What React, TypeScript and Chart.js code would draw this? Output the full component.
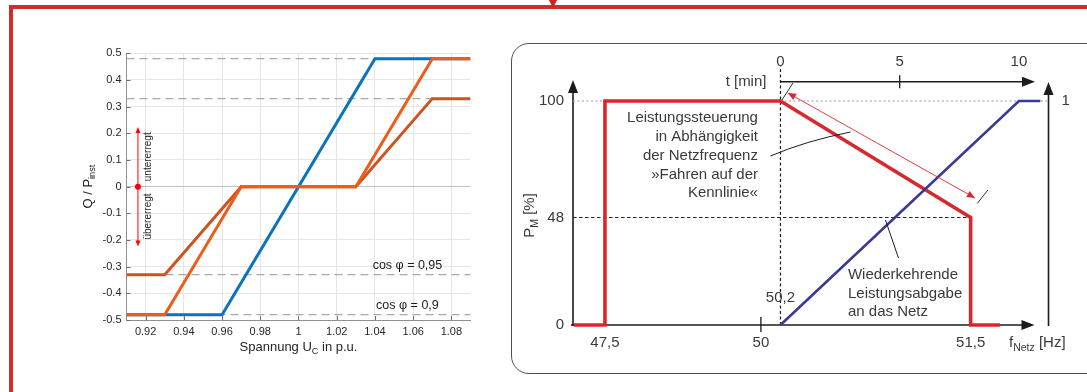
import React, { useEffect, useRef } from 'react';
import { Chart, registerables } from 'chart.js';
Chart.register(...registerables);

// ---------------- Left chart: Q/P_inst over U_C ----------------
const U_MIN = 0.91;
const U_MAX = 1.09;
const U_TICKS = [0.92, 0.94, 0.96, 0.98, 1.0, 1.02, 1.04, 1.06, 1.08];
const Q_TICKS = [-0.5, -0.4, -0.3, -0.2, -0.1, 0, 0.1, 0.2, 0.3, 0.4, 0.5];
const BLUE_U = [0.91, 0.96, 1.04, 1.09];
const BLUE_Q = [-0.48, -0.48, 0.48, 0.48];
const ORANGE_U = [0.91, 0.93, 0.97, 1.03, 1.07, 1.09];
const ORANGE_Q = [-0.48, -0.48, 0, 0, 0.48, 0.48];
const DARK_U = [0.91, 0.93, 0.97, 1.03, 1.07, 1.09];
const DARK_Q = [-0.33, -0.33, 0, 0, 0.33, 0.33];
const LIMIT_LEVELS = [0.48, 0.33, -0.33, -0.48];
const COS_LABELS = ['cos φ = 0,95', 'cos φ = 0,9'];
const COS_LEVELS = [-0.33, -0.48];
const COS_LABEL_U = 1.057;
const EXC_U = 0.916;
const EXC_RANGE = 0.224;
const EXC_LABELS = ['untererregt', 'übererregt'];

// ---------------- Right chart: P_M over f_Netz / t ----------------
const P_TICKS = [0, 48, 100];
const P_TICK_LABELS = ['0', '48', '100'];
const F_TICKS = [47.5, 50, 51.5];
const F_TICK_LABELS = ['47,5', '50', '51,5'];
const F_START = 50.2;
const F_START_LABEL = '50,2';
const T_TICKS = [0, 5, 10];
const T_TICK_LABELS = ['0', '5', '10'];
const RED_F = [47.0, 47.5, 47.5, 50.2, 51.5, 51.5, 51.7];
const RED_P = [0, 0, 100, 100, 48, 0, 0];
const BLUE_T = [0, 10, 10.9];
const BLUE_P = [0, 100, 100];
const NOTE_CONTROL = ['Leistungssteuerung', 'in Abhängigkeit', 'der Netzfrequenz', '»Fahren auf der', 'Kennlinie«'];
const NOTE_RETURN = ['Wiederkehrende', 'Leistungsabgabe', 'an das Netz'];

// schematic (broken) frequency axis, expressed in minute units of the time axis
const F_BREAKS = [47.5, 50, 50.2, 51.5];
const F_AXIS_AT = [-7.36, -0.82, 0, 7.975];
const T_MIN = -8.7;
const T_MAX = 11.24;
function fAxis(f: number): number {
  const b = F_BREAKS, a = F_AXIS_AT;
  let i = 0;
  if (f <= b[0]) i = 0;
  else if (f >= b[b.length - 1]) i = b.length - 2;
  else { while (f > b[i + 1]) i++; }
  return a[i] + (f - b[i]) * (a[i + 1] - a[i]) / (b[i + 1] - b[i]);
}

const LFONT = "'Liberation Sans', Arial, sans-serif";
const RFONT = "'Liberation Sans', Arial, sans-serif";
const FRAME_RED = '#cf2e2e';

type Part = { t: string; sub?: boolean };
function drawRich(ctx: CanvasRenderingContext2D, parts: Part[], x: number, y: number, size: number, family: string, color: string, align: 'left' | 'center' | 'right' = 'center') {
  ctx.save();
  ctx.fillStyle = color;
  ctx.textBaseline = 'middle';
  ctx.textAlign = 'left';
  const sub = size * 0.7;
  const widths = parts.map(p => { ctx.font = `${p.sub ? sub : size}px ${family}`; return ctx.measureText(p.t).width; });
  const total = widths.reduce((s, w) => s + w, 0);
  let cx = align === 'center' ? x - total / 2 : align === 'right' ? x - total : x;
  parts.forEach((p, i) => {
    ctx.font = `${p.sub ? sub : size}px ${family}`;
    ctx.fillText(p.t, cx, p.sub ? y + size * 0.36 : y);
    cx += widths[i];
  });
  ctx.restore();
}

function arrowHead(ctx: CanvasRenderingContext2D, tx: number, ty: number, dx: number, dy: number, len: number, hw: number, color: string) {
  const n = Math.hypot(dx, dy); const ux = dx / n, uy = dy / n;
  ctx.save();
  ctx.fillStyle = color;
  ctx.beginPath();
  ctx.moveTo(tx, ty);
  ctx.lineTo(tx - ux * len - uy * hw, ty - uy * len + ux * hw);
  ctx.lineTo(tx - ux * len + uy * hw, ty - uy * len - ux * hw);
  ctx.closePath();
  ctx.fill();
  ctx.restore();
}

const pts = (xs: number[], ys: number[]) => xs.map((x, i) => ({ x, y: ys[i] }));

function leftConfig(): any {
  const plugin = {
    id: 'leftDecor',
    afterDraw(chart: any) {
      const { ctx, chartArea: ca, scales } = chart;
      const x = scales.x, y = scales.y;
      ctx.save();
      // inward tick marks
      ctx.strokeStyle = '#6e6e6e';
      ctx.lineWidth = 1;
      ctx.beginPath();
      U_TICKS.forEach(u => { const px = Math.round(x.getPixelForValue(u)) + 0.5; ctx.moveTo(px, ca.bottom); ctx.lineTo(px, ca.bottom - 4); });
      Q_TICKS.forEach(q => { const py = Math.round(y.getPixelForValue(q)) + 0.5; ctx.moveTo(ca.left, py); ctx.lineTo(ca.left + 4, py); });
      ctx.stroke();
      // axis titles
      drawRich(ctx, [{ t: 'Spannung U' }, { t: 'C', sub: true }, { t: ' in p.u.' }], (ca.left + ca.right) / 2, ca.bottom + 27, 13, LFONT, '#262626');
      ctx.save();
      ctx.translate(ca.left - 38.5, y.getPixelForValue(0));
      ctx.rotate(-Math.PI / 2);
      drawRich(ctx, [{ t: 'Q / P' }, { t: 'inst', sub: true }], 0, 0, 13, LFONT, '#262626');
      ctx.restore();
      // cos phi labels
      ctx.fillStyle = '#1a1a1a';
      ctx.font = `12.5px ${LFONT}`;
      ctx.textAlign = 'center';
      ctx.textBaseline = 'middle';
      COS_LABELS.forEach((t, i) => ctx.fillText(t, x.getPixelForValue(COS_LABEL_U), y.getPixelForValue(COS_LEVELS[i]) - 9.5));
      // excitation arrow
      const ax = x.getPixelForValue(EXC_U);
      const y0 = y.getPixelForValue(0), yU = y.getPixelForValue(EXC_RANGE), yD = y.getPixelForValue(-EXC_RANGE);
      ctx.strokeStyle = '#ff0000';
      ctx.lineWidth = 1;
      ctx.beginPath();
      ctx.moveTo(ax, yU + 4); ctx.lineTo(ax, yD - 4);
      ctx.stroke();
      arrowHead(ctx, ax, yU, 0, -1, 6, 2.5, '#ff0000');
      arrowHead(ctx, ax, yD, 0, 1, 6, 2.5, '#ff0000');
      ctx.fillStyle = '#ff0000';
      ctx.beginPath(); ctx.arc(ax, y0, 3, 0, Math.PI * 2); ctx.fill();
      [EXC_RANGE / 2, -EXC_RANGE / 2].forEach((v, i) => {
        ctx.save();
        ctx.translate(ax + 10.7, y.getPixelForValue(v));
        ctx.rotate(-Math.PI / 2);
        ctx.fillStyle = '#262626';
        ctx.font = `10px ${LFONT}`;
        ctx.textAlign = 'center';
        ctx.textBaseline = 'middle';
        ctx.fillText(EXC_LABELS[i], 0, 0);
        ctx.restore();
      });
      ctx.restore();
    },
  };
  const line = (data: any[], color: string, order: number, extra: any = {}) => ({ data, borderColor: color, borderWidth: 3, order, pointRadius: 0, ...extra });
  return {
    type: 'line',
    data: {
      datasets: [
        line(pts(ORANGE_U, ORANGE_Q), '#ea5d1b', 1),
        line(pts(DARK_U, DARK_Q), '#cf5322', 2),
        line(pts(BLUE_U, BLUE_Q), '#0b72bd', 3),
        ...LIMIT_LEVELS.map(v => line([{ x: U_MIN, y: v }, { x: U_MAX, y: v }], '#a9a9a9', 10, { borderWidth: 1.3, borderDash: [8, 5] })),
      ],
    },
    options: {
      responsive: false,
      animation: false,
      devicePixelRatio: 1,
      events: [],
      layout: { padding: { left: 0, top: 23.3, right: 19.5, bottom: 0 } },
      plugins: { legend: { display: false }, tooltip: { enabled: false } },
      elements: { line: { tension: 0, fill: false } },
      scales: {
        x: {
          type: 'linear', min: U_MIN, max: U_MAX,
          afterBuildTicks: (s: any) => { s.ticks = U_TICKS.map(value => ({ value })); },
          afterFit: (s: any) => { s.height = 50; },
          ticks: { autoSkip: false, maxRotation: 0, padding: 5, color: '#262626', font: { family: LFONT, size: 11 }, callback: (v: number) => (Math.abs(v - 1) < 1e-9 ? '1' : v.toFixed(2)) },
          grid: { color: '#e6e6e6', drawTicks: false },
          border: { display: true, color: '#8f8f8f' },
        },
        y: {
          type: 'linear', min: -0.5, max: 0.5,
          afterBuildTicks: (s: any) => { s.ticks = Q_TICKS.map(value => ({ value })); },
          afterFit: (s: any) => { s.width = 86.5; },
          ticks: { autoSkip: false, padding: 5, color: '#262626', font: { family: LFONT, size: 11 }, callback: (v: number) => (Math.abs(v) < 1e-9 ? '0' : v.toFixed(1)) },
          grid: { color: (c: any) => (c.tick && Math.abs(c.tick.value) < 1e-9 ? '#c0c0c0' : '#e6e6e6'), drawTicks: false },
          border: { display: true, color: '#8f8f8f' },
        },
      },
    },
    plugins: [plugin],
  };
}

function rightConfig(): any {
  const INK = '#1c1c1c';
  const TXT = '#3a3a3a';
  const RED = '#d6292f';
  const back = {
    id: 'rightAxes',
    beforeDatasetsDraw(chart: any) {
      const { ctx, chartArea: ca, scales } = chart;
      const X = (v: number) => scales.x.getPixelForValue(v);
      const Y = (v: number) => scales.y.getPixelForValue(v);
      const yT = Y(100), yB = Y(0), x0 = X(fAxis(F_START));
      const tY = yT - 19.3;
      ctx.save();
      ctx.strokeStyle = INK;
      ctx.lineWidth = 1.6;
      ctx.beginPath();
      // P axis (left)
      ctx.moveTo(ca.left, yB + 1); ctx.lineTo(ca.left, yT - 12);
      // right vertical
      ctx.moveTo(ca.right, yB + 1); ctx.lineTo(ca.right, yT - 10);
      // f axis
      ctx.moveTo(ca.left - 2, yB); ctx.lineTo(ca.right - 24, yB);
      // t axis
      ctx.moveTo(x0, tY); ctx.lineTo(ca.right - 24, tY);
      ctx.stroke();
      arrowHead(ctx, ca.left, yT - 21, 0, -1, 13, 5, INK);
      arrowHead(ctx, ca.right, yT - 19, 0, -1, 13, 5, INK);
      arrowHead(ctx, ca.right - 14, yB, 1, 0, 13, 5, INK);
      arrowHead(ctx, ca.right - 13.5, tY, 1, 0, 13, 5, INK);
      // tick marks
      ctx.lineWidth = 1.3;
      ctx.beginPath();
      ctx.moveTo(X(T_TICKS[1]), tY - 6.5); ctx.lineTo(X(T_TICKS[1]), tY + 6.5);
      ctx.moveTo(X(fAxis(F_TICKS[1])), yB - 8); ctx.lineTo(X(fAxis(F_TICKS[1])), yB + 7);
      ctx.stroke();
      // dashed vertical at 50,2 / t = 0
      ctx.setLineDash([3, 2.5]);
      ctx.lineWidth = 1.2;
      ctx.beginPath();
      ctx.moveTo(x0, yB); ctx.lineTo(x0, yT - 35);
      ctx.stroke();
      ctx.restore();
    },
  };
  const front = {
    id: 'rightText',
    afterDatasetsDraw(chart: any) {
      const { ctx, chartArea: ca, scales } = chart;
      const X = (v: number) => scales.x.getPixelForValue(v);
      const Y = (v: number) => scales.y.getPixelForValue(v);
      const yT = Y(100), yB = Y(0), x0 = X(fAxis(F_START));
      const tY = yT - 19.3;
      ctx.save();
      ctx.fillStyle = TXT;
      ctx.font = `15px ${RFONT}`;
      ctx.textBaseline = 'middle';
      ctx.textAlign = 'center';
      T_TICKS.forEach((t, i) => ctx.fillText(T_TICK_LABELS[i], X(t), tY - 20));
      F_TICKS.forEach((f, i) => ctx.fillText(F_TICK_LABELS[i], X(fAxis(f)), yB + 18));
      ctx.fillText(F_START_LABEL, x0, yB - 27);
      ctx.textAlign = 'right';
      P_TICKS.forEach((p, i) => ctx.fillText(P_TICK_LABELS[i], ca.left - 9, Y(p)));
      ctx.fillText('t [min]', x0 - 14, tY);
      NOTE_CONTROL.forEach((t, i) => ctx.fillText(t, x0 - 22.5, yT + 17 + i * 18.8));
      ctx.textAlign = 'left';
      ctx.fillText('1', ca.right + 13, yT);
      NOTE_RETURN.forEach((t, i) => ctx.fillText(t, x0 + 67.5, yB - 50 + i * 18.4));
      drawRich(ctx, [{ t: 'f' }, { t: 'Netz', sub: true }, { t: ' [Hz]' }], ca.right - 39.5, yB + 18, 15, RFONT, TXT, 'left');
      ctx.save();
      ctx.translate(ca.left - 43, Y(48) - 2);
      ctx.rotate(-Math.PI / 2);
      drawRich(ctx, [{ t: 'P' }, { t: 'M', sub: true }, { t: ' [%]' }], 0, 0, 15, RFONT, TXT, 'center');
      ctx.restore();
      // leader lines
      ctx.strokeStyle = INK;
      ctx.lineWidth = 1;
      ctx.beginPath();
      ctx.moveTo(x0 - 10, yT + 55);
      ctx.quadraticCurveTo(x0 + 25, yT + 40, x0 + 70, yT + 31);
      ctx.moveTo(x0 + 105, yB - 105); ctx.lineTo(x0 + 118, yB - 67);
      ctx.stroke();
      // ramp dimension arrow
      const ex = X(fAxis(F_TICKS[2])), ey = Y(48);
      const sx = x0 + 7.5, sy = yT - 8;
      const tx = ex + 4.3, ty = ey - 19.5;
      ctx.strokeStyle = RED;
      ctx.lineWidth = 0.9;
      ctx.beginPath(); ctx.moveTo(sx, sy); ctx.lineTo(tx, ty); ctx.stroke();
      arrowHead(ctx, sx, sy, sx - tx, sy - ty, 8, 3.5, RED);
      arrowHead(ctx, tx, ty, tx - sx, ty - sy, 8, 3.5, RED);
      ctx.strokeStyle = INK;
      ctx.beginPath();
      ctx.moveTo(x0 + 1.5, yT - 1); ctx.lineTo(x0 + 12.5, yT - 18);
      ctx.moveTo(ex + 6.6, ey - 14); ctx.lineTo(ex + 17.3, ey - 27.5);
      ctx.stroke();
      ctx.restore();
    },
  };
  return {
    type: 'line',
    data: {
      datasets: [
        { data: pts(BLUE_T, BLUE_P), borderColor: '#3a3997', borderWidth: 2.6, order: 1, clip: false, pointRadius: 0 },
        { data: pts(RED_F.map(fAxis), RED_P), borderColor: RED, borderWidth: 3.6, order: 2, clip: false, pointRadius: 0, borderJoinStyle: 'miter' },
        { data: [{ x: T_MIN, y: 48 }, { x: fAxis(F_TICKS[2]), y: 48 }], borderColor: '#222222', borderWidth: 1.2, borderDash: [3.5, 2.5], order: 9, pointRadius: 0 },
        { data: [{ x: T_MIN, y: 100 }, { x: T_MAX, y: 100 }], borderColor: '#9a9a9a', borderWidth: 1.2, borderDash: [2, 2.5], order: 10, pointRadius: 0, clip: false },
      ],
    },
    options: {
      responsive: false,
      animation: false,
      devicePixelRatio: 1,
      events: [],
      layout: { padding: { left: 58, top: 61, right: 38.5, bottom: 60 } },
      plugins: { legend: { display: false }, tooltip: { enabled: false } },
      elements: { line: { tension: 0, fill: false } },
      scales: {
        x: { type: 'linear', min: T_MIN, max: T_MAX, display: false },
        y: { type: 'linear', min: 0, max: 100, display: false },
      },
    },
    plugins: [back, front],
  };
}

export default function App() {
  const leftRef = useRef<HTMLCanvasElement>(null);
  const rightRef = useRef<HTMLCanvasElement>(null);
  useEffect(() => {
    const c1 = new Chart(leftRef.current as HTMLCanvasElement, leftConfig());
    const c2 = new Chart(rightRef.current as HTMLCanvasElement, rightConfig());
    return () => { c1.destroy(); c2.destroy(); };
  }, []);
  return (
    <div style={{ position: 'fixed', left: 0, top: 0, width: 1087, height: 392, overflow: 'hidden', background: '#ffffff' }}>
      <div style={{ position: 'absolute', left: 8.5, top: 5, width: 1100, height: 4, background: FRAME_RED }} />
      <div style={{ position: 'absolute', left: 8.5, top: 5, width: 4, height: 400, background: FRAME_RED }} />
      <div style={{ position: 'absolute', left: 549, top: 0, width: 0, height: 0, borderLeft: '4.5px solid transparent', borderRight: '4.5px solid transparent', borderTop: '8px solid #d41f1f' }} />
      <div style={{ position: 'absolute', left: 510.5, top: 43, width: 640, height: 329, border: '1.5px solid #505050', borderRadius: 18 }} />
      <canvas ref={leftRef} width={450} height={340} style={{ position: 'absolute', left: 40, top: 30, width: 450, height: 340 }} />
      <canvas ref={rightRef} width={572} height={345} style={{ position: 'absolute', left: 515, top: 40, width: 572, height: 345 }} />
    </div>
  );
}
